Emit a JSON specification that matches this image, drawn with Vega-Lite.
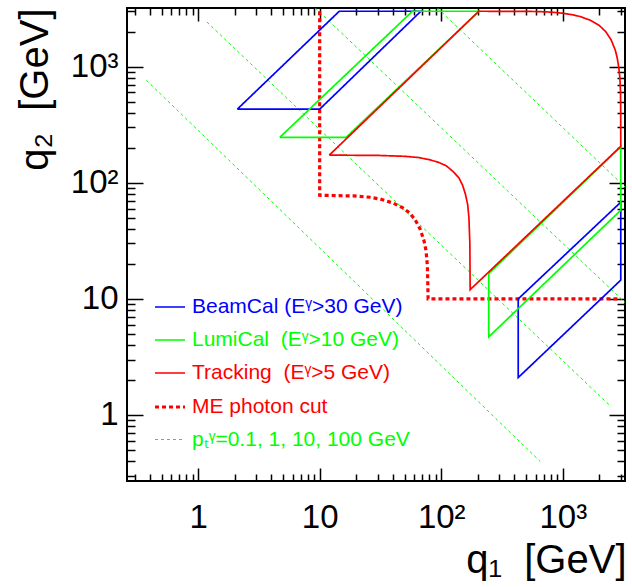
{
  "$schema": "https://vega.github.io/schema/vega-lite/v6.json",
  "width": 498,
  "height": 473,
  "autosize": {"type": "none"},
  "padding": {"left": 127, "top": 8, "right": 7, "bottom": 106},
  "background": "white",
  "config": {
    "view": {"stroke": "black", "strokeWidth": 2},
    "axis": {"grid": false, "domain": false, "tickColor": "black", "tickWidth": 1.5, "labelFont": "Liberation Sans", "titleFont": "Liberation Sans", "labelColor": "black", "titleColor": "black", "titleFontWeight": "normal", "labelOverlap": false, "labelFlush": false},
    "legend": {"orient": "none", "legendX": 26, "legendY": 283, "title": null, "symbolType": "stroke", "symbolSize": 900, "labelFontSize": 21, "labelFont": "Liberation Sans", "rowPadding": 7, "padding": 0, "labelOffset": 5, "labelLimit": 0}
  },
  "data": {"values": [
    {"s": "pT", "p": "p1", "i": 0, "q1": 0.375, "q2": 764},
    {"s": "pT", "p": "p1", "i": 1, "q1": 653, "q2": 0.397},
    {"s": "pT", "p": "p2", "i": 0, "q1": 1.18, "q2": 2425},
    {"s": "pT", "p": "p2", "i": 1, "q1": 2450, "q2": 1.2},
    {"s": "pT", "p": "p3", "i": 0, "q1": 9.2, "q2": 3200},
    {"s": "pT", "p": "p3", "i": 1, "q1": 3250, "q2": 9.3},
    {"s": "pT", "p": "p4", "i": 0, "q1": 93, "q2": 3200},
    {"s": "pT", "p": "p4", "i": 1, "q1": 3250, "q2": 92},
    {"s": "ME", "p": "m1", "i": 0, "q1": 10, "q2": 3000},
    {"s": "ME", "p": "m1", "i": 1, "q1": 10, "q2": 78},
    {"s": "ME", "p": "m1", "i": 2, "q1": 19, "q2": 77},
    {"s": "ME", "p": "m1", "i": 3, "q1": 26, "q2": 75},
    {"s": "ME", "p": "m1", "i": 4, "q1": 32, "q2": 72},
    {"s": "ME", "p": "m1", "i": 5, "q1": 40, "q2": 67},
    {"s": "ME", "p": "m1", "i": 6, "q1": 48, "q2": 61},
    {"s": "ME", "p": "m1", "i": 7, "q1": 55, "q2": 55},
    {"s": "ME", "p": "m1", "i": 8, "q1": 61, "q2": 48},
    {"s": "ME", "p": "m1", "i": 9, "q1": 67, "q2": 40},
    {"s": "ME", "p": "m1", "i": 10, "q1": 72, "q2": 32},
    {"s": "ME", "p": "m1", "i": 11, "q1": 75, "q2": 26},
    {"s": "ME", "p": "m1", "i": 12, "q1": 77, "q2": 19},
    {"s": "ME", "p": "m1", "i": 13, "q1": 78, "q2": 10},
    {"s": "ME", "p": "m1", "i": 14, "q1": 3000, "q2": 10},
    {"s": "BeamCal", "p": "b1", "i": 0, "q1": 2.1, "q2": 430},
    {"s": "BeamCal", "p": "b1", "i": 1, "q1": 14.5, "q2": 3000},
    {"s": "BeamCal", "p": "b1", "i": 2, "q1": 68, "q2": 3000},
    {"s": "BeamCal", "p": "b1", "i": 3, "q1": 10, "q2": 430},
    {"s": "BeamCal", "p": "b1", "i": 4, "q1": 2.1, "q2": 430},
    {"s": "BeamCal", "p": "b2", "i": 0, "q1": 430, "q2": 10},
    {"s": "BeamCal", "p": "b2", "i": 1, "q1": 3000, "q2": 68},
    {"s": "BeamCal", "p": "b2", "i": 2, "q1": 3000, "q2": 14.5},
    {"s": "BeamCal", "p": "b2", "i": 3, "q1": 430, "q2": 2.1},
    {"s": "BeamCal", "p": "b2", "i": 4, "q1": 430, "q2": 10},
    {"s": "LumiCal", "p": "g1", "i": 0, "q1": 4.7, "q2": 246},
    {"s": "LumiCal", "p": "g1", "i": 1, "q1": 58, "q2": 3000},
    {"s": "LumiCal", "p": "g1", "i": 2, "q1": 204, "q2": 3000},
    {"s": "LumiCal", "p": "g1", "i": 3, "q1": 16.5, "q2": 246},
    {"s": "LumiCal", "p": "g1", "i": 4, "q1": 4.7, "q2": 246},
    {"s": "LumiCal", "p": "g2", "i": 0, "q1": 246, "q2": 16.5},
    {"s": "LumiCal", "p": "g2", "i": 1, "q1": 3000, "q2": 204},
    {"s": "LumiCal", "p": "g2", "i": 2, "q1": 3000, "q2": 58},
    {"s": "LumiCal", "p": "g2", "i": 3, "q1": 246, "q2": 4.7},
    {"s": "LumiCal", "p": "g2", "i": 4, "q1": 246, "q2": 16.5},
    {"s": "Tracking", "p": "t1", "i": 0, "q1": 12, "q2": 173},
    {"s": "Tracking", "p": "t1", "i": 1, "q1": 204, "q2": 3000},
    {"s": "Tracking", "p": "t1", "i": 2, "q1": 400, "q2": 2995},
    {"s": "Tracking", "p": "t1", "i": 3, "q1": 600, "q2": 2985},
    {"s": "Tracking", "p": "t1", "i": 4, "q1": 800, "q2": 2950},
    {"s": "Tracking", "p": "t1", "i": 5, "q1": 982, "q2": 2890},
    {"s": "Tracking", "p": "t1", "i": 6, "q1": 1200, "q2": 2800},
    {"s": "Tracking", "p": "t1", "i": 7, "q1": 1393, "q2": 2700},
    {"s": "Tracking", "p": "t1", "i": 8, "q1": 1700, "q2": 2500},
    {"s": "Tracking", "p": "t1", "i": 9, "q1": 2000, "q2": 2260},
    {"s": "Tracking", "p": "t1", "i": 10, "q1": 2260, "q2": 2000},
    {"s": "Tracking", "p": "t1", "i": 11, "q1": 2500, "q2": 1700},
    {"s": "Tracking", "p": "t1", "i": 12, "q1": 2700, "q2": 1393},
    {"s": "Tracking", "p": "t1", "i": 13, "q1": 2800, "q2": 1200},
    {"s": "Tracking", "p": "t1", "i": 14, "q1": 2890, "q2": 982},
    {"s": "Tracking", "p": "t1", "i": 15, "q1": 2950, "q2": 800},
    {"s": "Tracking", "p": "t1", "i": 16, "q1": 2985, "q2": 600},
    {"s": "Tracking", "p": "t1", "i": 17, "q1": 2995, "q2": 400},
    {"s": "Tracking", "p": "t1", "i": 18, "q1": 3000, "q2": 206},
    {"s": "Tracking", "p": "t1", "i": 19, "q1": 173, "q2": 12},
    {"s": "Tracking", "p": "t1", "i": 20, "q1": 172, "q2": 30},
    {"s": "Tracking", "p": "t1", "i": 21, "q1": 169, "q2": 50},
    {"s": "Tracking", "p": "t1", "i": 22, "q1": 165, "q2": 65},
    {"s": "Tracking", "p": "t1", "i": 23, "q1": 158, "q2": 80},
    {"s": "Tracking", "p": "t1", "i": 24, "q1": 150, "q2": 95},
    {"s": "Tracking", "p": "t1", "i": 25, "q1": 140, "q2": 110},
    {"s": "Tracking", "p": "t1", "i": 26, "q1": 128, "q2": 122},
    {"s": "Tracking", "p": "t1", "i": 27, "q1": 122, "q2": 128},
    {"s": "Tracking", "p": "t1", "i": 28, "q1": 110, "q2": 140},
    {"s": "Tracking", "p": "t1", "i": 29, "q1": 95, "q2": 150},
    {"s": "Tracking", "p": "t1", "i": 30, "q1": 80, "q2": 158},
    {"s": "Tracking", "p": "t1", "i": 31, "q1": 65, "q2": 165},
    {"s": "Tracking", "p": "t1", "i": 32, "q1": 50, "q2": 169},
    {"s": "Tracking", "p": "t1", "i": 33, "q1": 30, "q2": 172},
    {"s": "Tracking", "p": "t1", "i": 34, "q1": 12, "q2": 173}
  ]},
  "layer": [
    {
      "mark": {"type": "line", "clip": true, "strokeJoin": "miter", "strokeCap": "butt"},
      "encoding": {
        "x": {"field": "q1", "type": "quantitative", "scale": {"type": "log", "domain": [0.26, 3250], "nice": false},
          "axis": {"orient": "bottom", "values": [1, 10, 100, 1000], "ticks": false, "labelFontSize": 33, "labelBaseline": "alphabetic", "labelPadding": 46,
            "labelExpr": "datum.value == 100 ? '10²' : datum.value == 1000 ? '10³' : datum.value == 10 ? '10' : '1'",
            "title": "q₁\u00a0 [GeV]", "titleFontSize": 40, "titleX": 499, "titleY": 91, "titleAlign": "right", "titleBaseline": "alphabetic"}},
        "y": {"field": "q2", "type": "quantitative", "scale": {"type": "log", "domain": [0.27, 3200], "nice": false},
          "axis": {"orient": "left", "values": [1, 10, 100, 1000], "ticks": false, "labelFontSize": 33, "labelPadding": 9, "labelBaseline": "middle",
            "labelExpr": "datum.value == 100 ? '10²' : datum.value == 1000 ? '10³' : datum.value == 10 ? '10' : '1'",
            "title": "q₂\u00a0 [GeV]", "titleFontSize": 40, "titleX": -80, "titleY": 0, "titleAngle": -90, "titleAlign": "right", "titleBaseline": "alphabetic"}},
        "color": {"field": "s", "type": "nominal",
          "scale": {"domain": ["BeamCal", "LumiCal", "Tracking", "ME", "pT"], "range": ["#0000ff", "#00ff00", "#ff0000", "#ff0000", "#00ff00"]},
          "legend": {"labelColor": {"expr": "scale('color', datum.value)"},
            "symbolStrokeColor": {"expr": "scale('color', datum.value)"},
            "symbolStrokeWidth": {"expr": "datum.value == 'ME' ? 3.2 : datum.value == 'pT' ? 1.3 : 1.7"},
            "symbolDash": {"expr": "datum.value == 'ME' ? [4, 3] : datum.value == 'pT' ? [3, 3] : [1, 0]"},
            "labelExpr": "datum.value == 'BeamCal' ? 'BeamCal (Eᵞ>30 GeV)' : datum.value == 'LumiCal' ? 'LumiCal\u00a0 (Eᵞ>10 GeV)' : datum.value == 'Tracking' ? 'Tracking\u00a0 (Eᵞ>5 GeV)' : datum.value == 'ME' ? 'ME photon cut' : 'pₜᵞ=0.1, 1, 10, 100 GeV'"}},
        "strokeDash": {"field": "s", "type": "nominal",
          "scale": {"domain": ["BeamCal", "LumiCal", "Tracking", "ME", "pT"], "range": [[1, 0], [1, 0], [1, 0], [4, 3], [3, 3]]},
          "legend": null},
        "strokeWidth": {"field": "s", "type": "ordinal",
          "scale": {"type": "ordinal", "domain": ["BeamCal", "LumiCal", "Tracking", "ME", "pT"], "range": [1.7, 1.7, 1.7, 3.2, 1]},
          "legend": null},
        "detail": {"field": "p", "type": "nominal"},
        "order": {"field": "i", "type": "quantitative"}
      }
    },
    {
      "mark": {"type": "point", "opacity": 0},
      "encoding": {
        "x": {"field": "q1", "type": "quantitative", "scale": {"type": "log", "domain": [0.26, 3250], "nice": false},
          "axis": {"orient": "bottom", "values": [1, 10, 100, 1000], "labels": false, "tickSize": -13, "title": null}},
        "y": {"field": "q2", "type": "quantitative", "scale": {"type": "log", "domain": [0.27, 3200], "nice": false},
          "axis": {"orient": "left", "values": [1, 10, 100, 1000], "labels": false, "tickSize": -16, "title": null}}
      }
    },
    {
      "mark": {"type": "point", "opacity": 0},
      "encoding": {
        "x": {"field": "q1", "type": "quantitative", "scale": {"type": "log", "domain": [0.26, 3250], "nice": false},
          "axis": {"orient": "bottom", "values": [0.3, 0.4, 0.5, 0.6, 0.7, 0.8, 0.9, 2, 3, 4, 5, 6, 7, 8, 9, 20, 30, 40, 50, 60, 70, 80, 90, 200, 300, 400, 500, 600, 700, 800, 900, 2000, 3000], "labels": false, "tickSize": -7, "title": null}},
        "y": {"field": "q2", "type": "quantitative", "scale": {"type": "log", "domain": [0.27, 3200], "nice": false},
          "axis": {"orient": "left", "values": [0.3, 0.4, 0.5, 0.6, 0.7, 0.8, 0.9, 2, 3, 4, 5, 6, 7, 8, 9, 20, 30, 40, 50, 60, 70, 80, 90, 200, 300, 400, 500, 600, 700, 800, 900, 2000, 3000], "labels": false, "tickSize": -8, "title": null}}
      }
    },
    {
      "mark": {"type": "point", "opacity": 0},
      "encoding": {
        "x": {"field": "q1", "type": "quantitative", "scale": {"type": "log", "domain": [0.26, 3250], "nice": false},
          "axis": {"orient": "top", "values": [1, 10, 100, 1000], "labels": false, "tickSize": -13, "title": null}},
        "y": {"field": "q2", "type": "quantitative", "scale": {"type": "log", "domain": [0.27, 3200], "nice": false},
          "axis": {"orient": "right", "values": [1, 10, 100, 1000], "labels": false, "tickSize": -16, "title": null}}
      }
    },
    {
      "mark": {"type": "point", "opacity": 0},
      "encoding": {
        "x": {"field": "q1", "type": "quantitative", "scale": {"type": "log", "domain": [0.26, 3250], "nice": false},
          "axis": {"orient": "top", "values": [0.3, 0.4, 0.5, 0.6, 0.7, 0.8, 0.9, 2, 3, 4, 5, 6, 7, 8, 9, 20, 30, 40, 50, 60, 70, 80, 90, 200, 300, 400, 500, 600, 700, 800, 900, 2000, 3000], "labels": false, "tickSize": -7, "title": null}},
        "y": {"field": "q2", "type": "quantitative", "scale": {"type": "log", "domain": [0.27, 3200], "nice": false},
          "axis": {"orient": "right", "values": [0.3, 0.4, 0.5, 0.6, 0.7, 0.8, 0.9, 2, 3, 4, 5, 6, 7, 8, 9, 20, 30, 40, 50, 60, 70, 80, 90, 200, 300, 400, 500, 600, 700, 800, 900, 2000, 3000], "labels": false, "tickSize": -8, "title": null}}
      }
    }
  ],
  "resolve": {"axis": {"x": "independent", "y": "independent"}}
}
